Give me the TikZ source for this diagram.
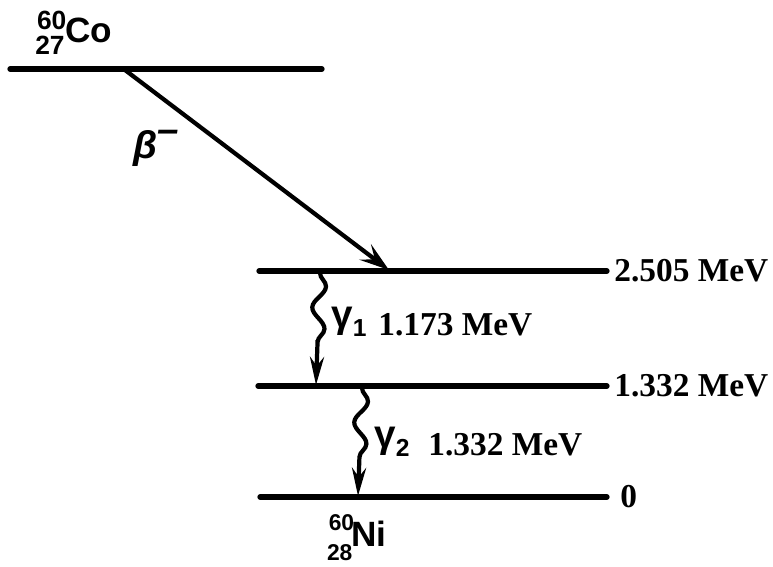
\documentclass[tikz,border=0pt]{standalone}
\usepackage{fontspec}
\setmainfont{Liberation Serif}
\newfontfamily\nucfont{Liberation Sans}
\usetikzlibrary{arrows.meta, positioning, decorations.pathmorphing}

\begin{document}
\begin{tikzpicture}[x=0.02cm, y=-0.02cm,
    level/.style={line width=3pt, line cap=round},
    energy/.style={anchor=west, inner sep=0pt, font=\fontsize{19}{22}\selectfont\bfseries},
    nuclide/.style={inner sep=0pt, font=\nucfont\bfseries\fontsize{20}{22}\selectfont},
    isotope/.style={inner sep=0pt, font=\nucfont\bfseries\fontsize{13}{14}\selectfont},
    greek/.style={inner sep=0pt, font=\nucfont\bfseries\fontsize{22}{24}\selectfont},
    decay/.style={-{Stealth[length=17pt, width=11pt, inset=7pt]}, line width=2.4pt},
    photon/.style={-{Stealth[length=16pt, width=8pt]}, line width=2.4pt, decorate,
        decoration={snake, segment length=0.85cm, amplitude=0.13cm, post length=0.65cm}}]

    \useasboundingbox (0,0) rectangle (773,566);

    % energy levels
    \coordinate (co-l) at (10,69);   \coordinate (co-r) at (322,69);
    \coordinate (e2-l) at (259,271); \coordinate (e2-r) at (607,271);
    \coordinate (e1-l) at (258,386); \coordinate (e1-r) at (607,386);
    \coordinate (e0-l) at (260,497); \coordinate (e0-r) at (607,497);
    \draw[level] (co-l) -- (co-r);
    \draw[level] (e2-l) -- (e2-r);
    \draw[level] (e1-l) -- (e1-r);
    \draw[level] (e0-l) -- (e0-r);

    \node[energy] (e2) at (614,271) {2.505 MeV};
    \node[energy] (e1) at (614,386) {1.332 MeV};
    \node[energy] (e0) at (620,497) {0};

    % nuclides
    \node[nuclide, anchor=base west] (co) at (65,42) {Co};
    \node[isotope, font=\nucfont\bfseries\fontsize{15}{16}\selectfont, anchor=base east] (co-a) at (co.base west) [xshift=1pt, yshift=7pt] {60};
    \node[isotope, font=\nucfont\bfseries\fontsize{15}{16}\selectfont, anchor=base east] (co-z) at (co.base west) [xshift=0pt, yshift=-7pt] {27};
    \node[nuclide, anchor=base west] (ni) at (351,546) {Ni};
    \node[isotope, anchor=base east] (ni-a) at (ni.base west) [xshift=2pt, yshift=9pt] {60};
    \node[isotope, anchor=base east] (ni-z) at (ni.base west) [xshift=1pt, yshift=-8pt] {28};

    % transitions
    \coordinate (beta-s) at (125,70);
    \coordinate (beta-e) at (389,270);
    \draw[decay] (beta-s) -- (beta-e);
    \node[greek, font=\nucfont\bfseries\itshape\fontsize{22}{24}\selectfont] (beta) at (156,148) {β\raisebox{9pt}{–}};

    \coordinate (g1-s) at (320,273);
    \coordinate (g1-e) at (316,385);
    \draw[photon] (g1-s) -- (g1-e);
    \node[greek, anchor=west] (g1) at (331,322) {γ\raisebox{-5pt}{\fontsize{14}{14}\selectfont 1}};
    \node[energy] (g1-energy) at (378,325) {1.173 MeV};

    \coordinate (g2-s) at (362,388);
    \coordinate (g2-e) at (358,496);
    \draw[photon] (g2-s) -- (g2-e);
    \node[greek, anchor=west] (g2) at (374,442) {γ\raisebox{-5pt}{\fontsize{14}{14}\selectfont 2}};
    \node[energy] (g2-energy) at (428,445) {1.332 MeV};
\end{tikzpicture}
\end{document}
